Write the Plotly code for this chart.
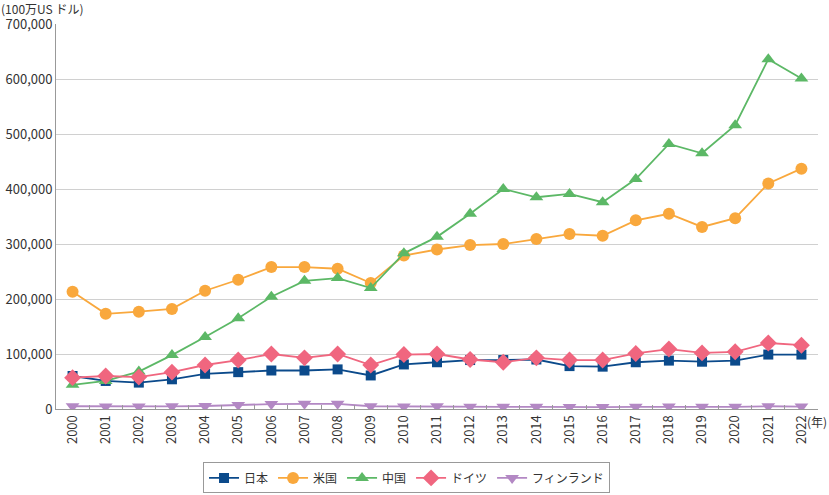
import plotly.graph_objects as go

years = [str(y) for y in range(2000, 2023)]
japan = [60000, 51000, 48000, 54000, 64000, 67000, 70000, 70000, 72000, 61000, 81000, 85000,
         89000, 89000, 90000, 78000, 77000, 85000, 88000, 86000, 88000, 99000, 99000]
usa = [213000, 173000, 177000, 182000, 215000, 235000, 258000, 258000, 255000, 229000, 279000, 290000,
       298000, 300000, 309000, 318000, 315000, 343000, 355000, 331000, 347000, 410000, 437000]
china = [44000, 51000, 68000, 98000, 131000, 165000, 204000, 233000, 238000, 220000, 283000, 313000,
         355000, 400000, 385000, 391000, 376000, 418000, 482000, 465000, 516000, 636000, 601000]
germany = [57000, 60000, 58000, 67000, 80000, 89000, 100000, 93000, 100000, 80000, 99000, 100000,
           90000, 85000, 93000, 89000, 89000, 101000, 109000, 102000, 104000, 120000, 116000]
finland = [5000, 4500, 4500, 4800, 5500, 7500, 9000, 9500, 9500, 5000, 4500, 5000,
           4000, 4000, 4000, 3500, 3500, 4000, 4500, 4000, 4000, 5000, 4500]

series = [
    ("日本", japan, "#0b4a8b", "square", 10),
    ("米国", usa, "#f9a83d", "circle", 12),
    ("中国", china, "#5cb866", "triangle-up", 12),
    ("ドイツ", germany, "#f0667f", "diamond", 13),
    ("フィンランド", finland, "#b388c4", "triangle-down", 12),
]

font = "Noto Sans CJK JP"
fig = go.Figure()
for name, vals, color, sym, size in series:
    fig.add_trace(go.Scatter(
        x=years, y=vals, name=name, mode="lines+markers",
        line=dict(color=color, width=1.8),
        marker=dict(symbol=sym, size=size, color=color),
    ))

fig.update_layout(
    width=829, height=495,
    margin=dict(l=56, r=11, t=24, b=86, autoexpand=False),
    paper_bgcolor="white", plot_bgcolor="white",
    font=dict(family=font, size=13, color="#333333"),
    showlegend=True,
    legend=dict(
        orientation="h", x=0.46, xanchor="center", y=-0.179, yanchor="middle",
        bordercolor="#999999", borderwidth=1, font=dict(size=12, color="#333333"),
        itemwidth=30, entrywidth=0, tracegroupgap=0,
    ),
    xaxis=dict(
        type="category", range=[-0.5, 22.5], tickangle=-90, automargin=False,
        tickson="boundaries", ticks="inside", ticklen=4, tickcolor="#999999",
        showline=True, linecolor="#999999", linewidth=1, showgrid=False,
        tickfont=dict(size=13, color="#333333"),
    ),
    yaxis=dict(
        range=[0, 700000], dtick=100000, tickformat=",d", automargin=False,
        showline=True, linecolor="#999999", linewidth=1,
        showgrid=True, gridcolor="#d0d0d0", gridwidth=1, zeroline=False,
        ticks="", tickfont=dict(size=13, color="#333333"),
    ),
    annotations=[
        dict(text="(100万US ドル)", xref="paper", yref="paper", x=-0.0735, y=1.0,
             xanchor="left", yanchor="middle", yshift=16, showarrow=False, borderpad=0,
             font=dict(size=12, color="#333333")),
        dict(text="(年)", xref="paper", yref="paper", x=0.984, y=0, xanchor="left",
             yanchor="top", yshift=-3, showarrow=False, borderpad=0,
             font=dict(size=12, color="#333333")),
    ],
)

fig.write_html("out.html", config={"displayModeBar": False})
with open("out.html", "r", encoding="utf-8") as f:
    html = f.read()
html = html.replace("<head>", "<head><style>html,body{margin:0;padding:0;overflow:hidden;}</style>", 1)
with open("out.html", "w", encoding="utf-8") as f:
    f.write(html)
